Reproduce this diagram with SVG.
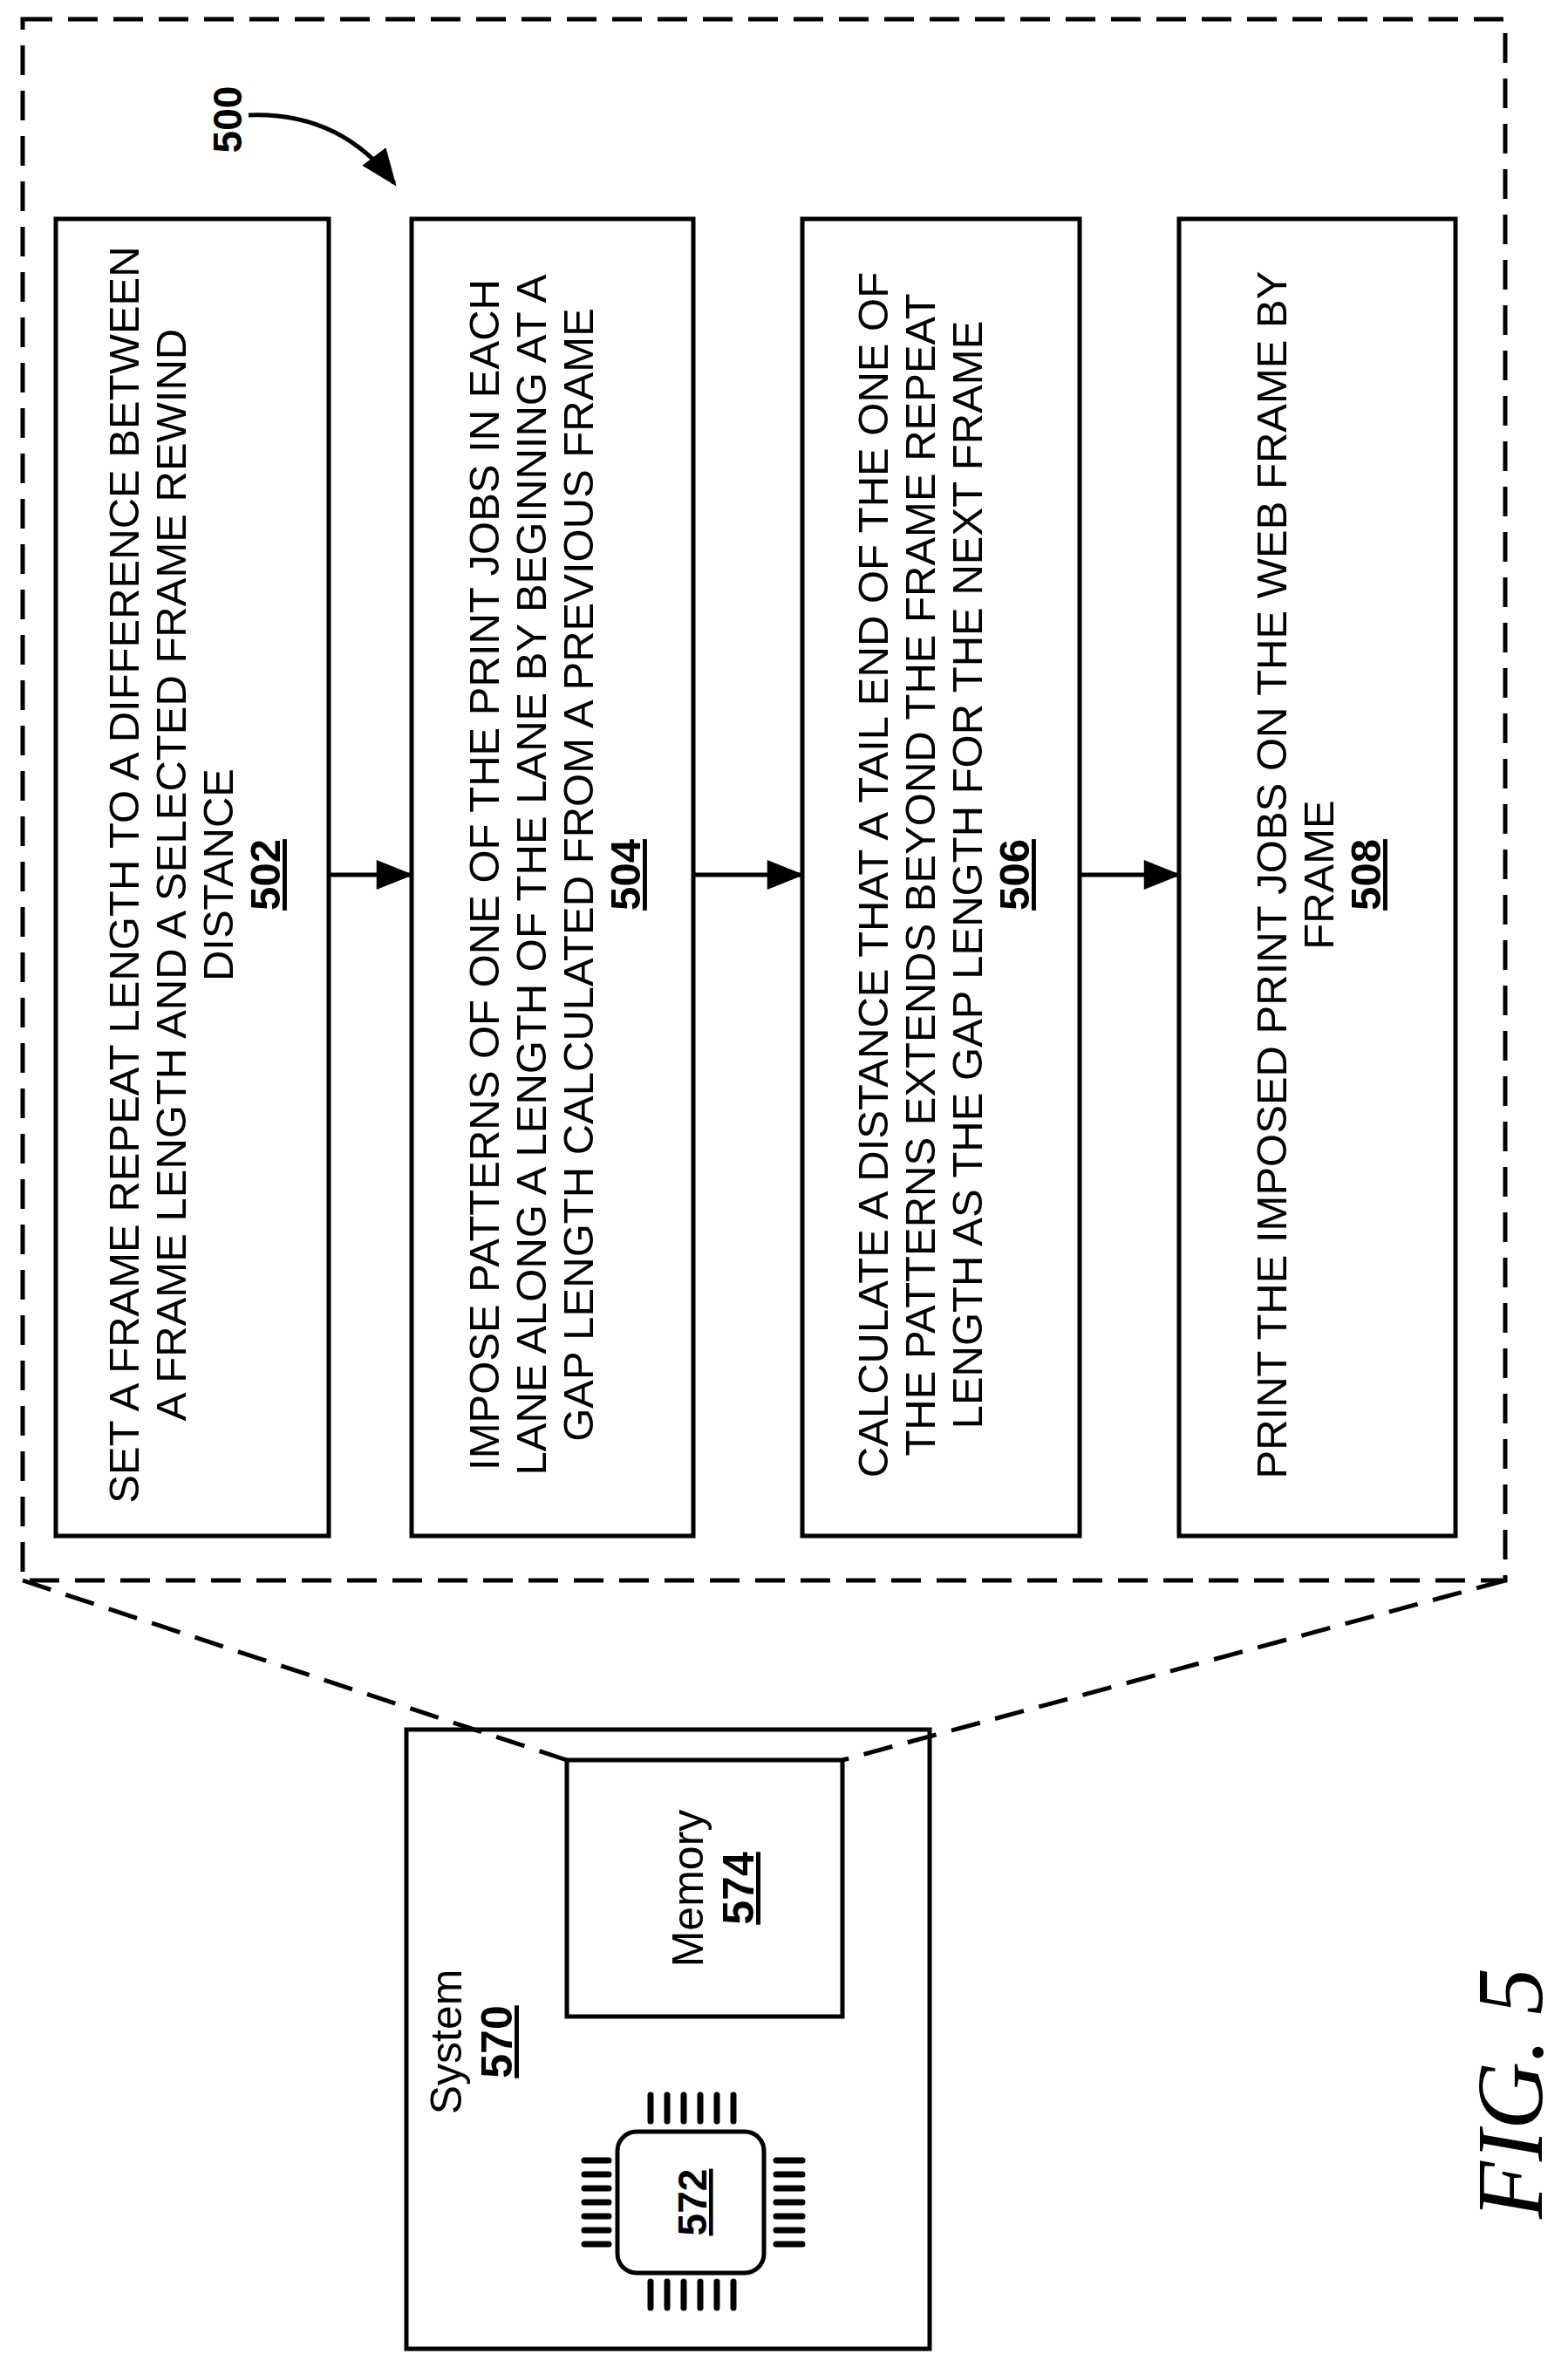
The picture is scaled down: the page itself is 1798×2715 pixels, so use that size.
<svg xmlns="http://www.w3.org/2000/svg" width="1798" height="2715" viewBox="0 0 1798 2715">
<style>
.b{fill:#fff;stroke:#000;stroke-width:5}
.d{fill:none;stroke:#000;stroke-width:5;stroke-dasharray:34 18}
.t{font-family:"Liberation Sans",Arial,sans-serif;font-size:49px;fill:#000;text-anchor:middle}
.s{font-size:50px}
.n{font-weight:bold;text-decoration:underline}
.c{stroke:#000;stroke-width:5;fill:none}
.p{stroke:#000;stroke-width:7;stroke-linecap:round}
</style>
<defs>
<marker id="ah2" viewBox="0 0 10 8" refX="9" refY="4" markerWidth="44" markerHeight="34" orient="auto" markerUnits="userSpaceOnUse"><path d="M0,0L10,4L0,8z" fill="#000"/></marker>
</defs>
<rect x="0" y="0" width="1798" height="2715" fill="#fff"/>
<g id="label500">
<text class="t" font-weight="bold" transform="translate(277,137) rotate(-90)" style="font-size:46px">500</text>
<path class="c" d="M285 132 Q390 128 452 210" marker-end="url(#ah2)"/>
</g>
<g id="n502">
<rect class="b" x="64" y="251" width="313" height="1510"/>
<g transform="translate(220,1003) rotate(-90)">
<text class="t" y="-61">SET A FRAME REPEAT LENGTH TO A DIFFERENCE BETWEEN</text>
<text class="t" y="-7">A FRAME LENGTH AND A SELECTED FRAME REWIND</text>
<text class="t" y="47">DISTANCE</text>
<text class="t n" y="101">502</text>
</g>
</g>
<g id="n504">
<rect class="b" x="472" y="251" width="323" height="1510"/>
<g transform="translate(633,1003) rotate(-90)">
<text class="t" y="-61">IMPOSE PATTERNS OF ONE OF THE PRINT JOBS IN EACH</text>
<text class="t" y="-7">LANE ALONG A LENGTH OF THE LANE BY BEGINNING AT A</text>
<text class="t" y="47">GAP LENGTH CALCULATED FROM A PREVIOUS FRAME</text>
<text class="t n" y="101">504</text>
</g>
</g>
<g id="n506">
<rect class="b" x="920" y="251" width="318" height="1510"/>
<g transform="translate(1079,1003) rotate(-90)">
<text class="t" y="-61">CALCULATE A DISTANCE THAT A TAIL END OF THE ONE OF</text>
<text class="t" y="-7">THE PATTERNS EXTENDS BEYOND THE FRAME REPEAT</text>
<text class="t" y="47">LENGTH AS THE GAP LENGTH FOR THE NEXT FRAME</text>
<text class="t n" y="101">506</text>
</g>
</g>
<g id="n508">
<rect class="b" x="1352" y="251" width="317" height="1510"/>
<g transform="translate(1510,1003) rotate(-90)">
<text class="t" y="-35">PRINT THE IMPOSED PRINT JOBS ON THE WEB FRAME BY</text>
<text class="t" y="19">FRAME</text>
<text class="t n" y="73">508</text>
</g>
</g>
<g id="connectors">
<line class="c" x1="377" y1="1003" x2="470" y2="1003" marker-end="url(#ah2)"/>
<line class="c" x1="795" y1="1003" x2="918" y2="1003" marker-end="url(#ah2)"/>
<line class="c" x1="1238" y1="1003" x2="1350" y2="1003" marker-end="url(#ah2)"/>
</g>
<g id="n570">
<rect class="b" x="466" y="1983" width="600" height="710"/>
<g transform="translate(533,2341) rotate(-90)">
<text class="t s" y="-4">System</text>
<text class="t n s" y="54">570</text>
</g>
</g>
<g id="n574">
<rect class="b" x="650" y="2018" width="316" height="294"/>
<g transform="translate(808,2165) rotate(-90)">
<text class="t s" y="-2">Memory</text>
<text class="t n s" y="56">574</text>
</g>
</g>
<g id="frame">
<rect class="d" x="26" y="22" width="1700" height="1790"/>
<path class="d" d="M26 1812 L650 2018"/>
<path class="d" d="M1726 1812 L966 2018"/>
</g>
<g id="n572">
<rect class="b" x="708" y="2444" width="168" height="162" rx="22"/>
<g class="p">
<line x1="746" y1="2402" x2="746" y2="2432"/><line x1="765" y1="2402" x2="765" y2="2432"/><line x1="784" y1="2402" x2="784" y2="2432"/><line x1="803" y1="2402" x2="803" y2="2432"/><line x1="822" y1="2402" x2="822" y2="2432"/><line x1="841" y1="2402" x2="841" y2="2432"/>
<line x1="746" y1="2616" x2="746" y2="2646"/><line x1="765" y1="2616" x2="765" y2="2646"/><line x1="784" y1="2616" x2="784" y2="2646"/><line x1="803" y1="2616" x2="803" y2="2646"/><line x1="822" y1="2616" x2="822" y2="2646"/><line x1="841" y1="2616" x2="841" y2="2646"/>
<line x1="670" y1="2477" x2="698" y2="2477"/><line x1="670" y1="2493" x2="698" y2="2493"/><line x1="670" y1="2509" x2="698" y2="2509"/><line x1="670" y1="2525" x2="698" y2="2525"/><line x1="670" y1="2541" x2="698" y2="2541"/><line x1="670" y1="2557" x2="698" y2="2557"/><line x1="670" y1="2573" x2="698" y2="2573"/>
<line x1="890" y1="2477" x2="920" y2="2477"/><line x1="890" y1="2493" x2="920" y2="2493"/><line x1="890" y1="2509" x2="920" y2="2509"/><line x1="890" y1="2525" x2="920" y2="2525"/><line x1="890" y1="2541" x2="920" y2="2541"/><line x1="890" y1="2557" x2="920" y2="2557"/><line x1="890" y1="2573" x2="920" y2="2573"/>
</g>
<text class="t n" transform="translate(810,2525) rotate(-90)" style="font-size:46px">572</text>
</g>
<text transform="translate(1768,2400) rotate(-90)" text-anchor="middle" style="font-family:'Liberation Serif','Times New Roman',serif;font-style:italic;font-size:108px">FIG. 5</text>
</svg>
